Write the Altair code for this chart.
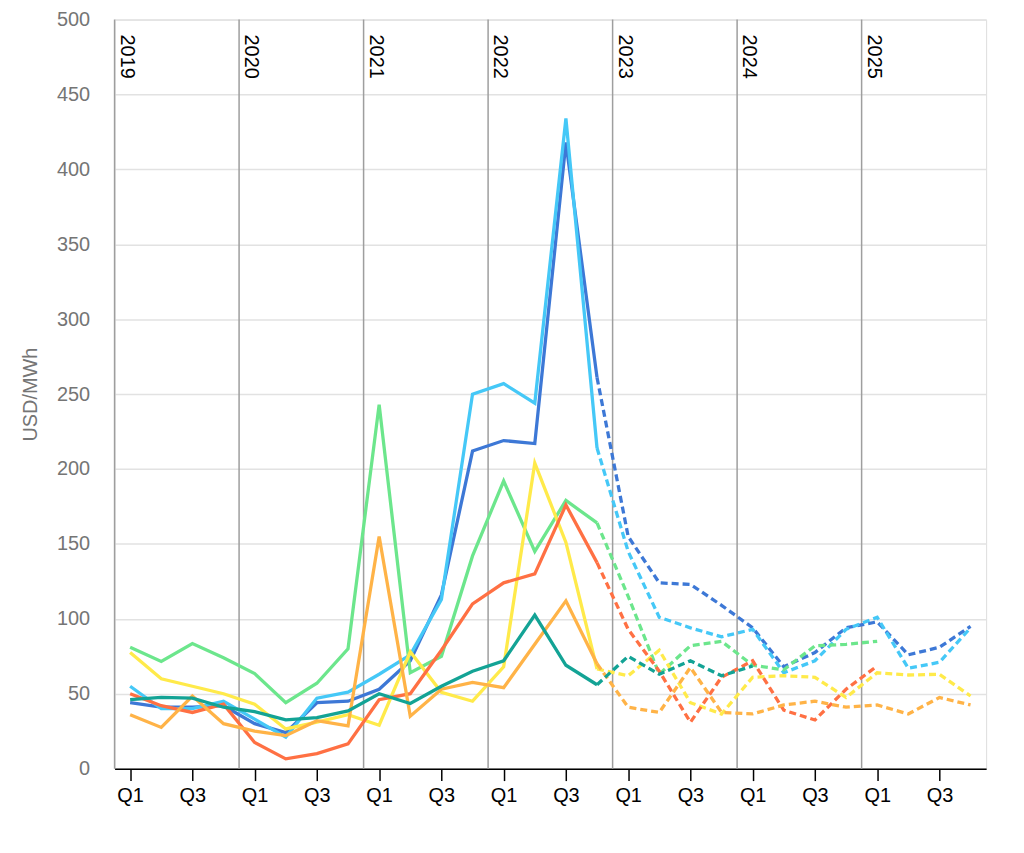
import altair as alt
import pandas as pd

# ---- data ----
quarter_labels = ["Q1", "Q3"]
years = ["2019", "2020", "2021", "2022", "2023", "2024", "2025"]
series_names = ["Series 1", "Series 2", "Series 3", "Series 4", "Series 5", "Series 6", "Series 7"]
series_colors = ["#3d78d6", "#45c8f7", "#6ce68c", "#ffea4a", "#ff7043", "#ffb347", "#13a395"]

s1 = [44, 41, 41, 42, 30, 24, 44, 45, 53, 72, 116, 212, 219, 217, 418, 261,
      155, 124, 123, 109, 94, 68, 77.5, 94, 98, 76, 81, 95]
s2 = [55, 40, 40, 45, 33, 21, 47, 51, 63, 76, 113, 250, 257, 244, 434, 214,
      145, 101, 94, 88, 93, 64, 72, 93, 101, 67, 71, 94]
s3 = [81, 71.5, 83.5, 74, 63.5, 44, 57, 80, 243, 64, 75, 142, 192, 145, 179, 164,
      115, 63, 82, 85, 69, 66, 82, 83, 85]
s4 = [77.5, 60, 55, 50, 43, 26.5, 31, 36, 29, 78, 51, 45, 68, 204, 151, 66.5,
      62, 79, 44, 36.5, 61, 62, 61, 47.5, 64, 62.5, 63, 48.5]
s5 = [50, 42, 37.5, 43, 17.5, 6.5, 10, 16.5, 46, 50, 79, 110, 124, 130, 176, 137.5,
      93, 65, 31, 61, 72, 39, 32.5, 53, 68.5]
s6 = [36, 27.5, 48.5, 30, 25, 22, 32, 28.5, 155, 35, 53, 57.5, 54, 83, 112, 70,
      41, 37.5, 67.5, 37.5, 36.5, 42.5, 45, 41, 42.5, 36.5, 47.5, 42.5]
s7 = [46, 47.5, 47, 41, 38, 32.5, 34, 38.5, 50, 43.5, 55, 65, 72, 102.5, 69, 56,
      75, 63, 72, 62, 68.5]
all_series = [s1, s2, s3, s4, s5, s6, s7]
last_actual = 15  # 2022 Q4: solid up to here, dashed from here on

rows = []
for name, vals in zip(series_names, all_series):
    for i, v in enumerate(vals):
        if i <= last_actual:
            rows.append({"q": i, "value": v, "series": name, "seg": "actual"})
        if i >= last_actual:
            rows.append({"q": i, "value": v, "series": name, "seg": "forecast"})
df = pd.DataFrame(rows)

year_df = pd.DataFrame({"q": [4 * k - 0.5 for k in range(len(years))], "year": years})

FONT = "Arial, Liberation Sans, sans-serif"

x_enc = alt.X(
    "q:Q",
    scale=alt.Scale(domain=[-0.5, 27.5], nice=False, zero=False),
    axis=alt.Axis(
        values=list(range(0, 28, 2)),
        labelExpr=f"datum.value % 4 == 0 ? '{quarter_labels[0]}' : '{quarter_labels[1]}'",
        grid=False, title=None,
        domainColor="#000000", domainWidth=1.5,
        tickColor="#000000", tickWidth=1.5, tickSize=12,
        labelColor="#000000", labelFontSize=20, labelPadding=5,
        labelFlush=False, labelOverlap=False,
    ),
)
y_enc = alt.Y(
    "value:Q",
    scale=alt.Scale(domain=[0, 500], nice=False),
    axis=alt.Axis(
        values=list(range(0, 501, 50)),
        grid=True, gridColor="#e2e2e2", gridWidth=1.5,
        domain=False, ticks=False,
        labelPadding=25, labelFontSize=20, labelColor="#757575",
        title="USD/MWh", titleFontSize=20, titleFontWeight="normal",
        titleColor="#757575", titlePadding=16,
    ),
)
color_enc = alt.Color(
    "series:N",
    scale=alt.Scale(domain=series_names, range=series_colors),
    legend=None,
)

rules = alt.Chart(year_df).mark_rule(color="#9e9e9e", strokeWidth=1.5).encode(x=x_enc)

solid = alt.Chart(df).transform_filter(alt.datum.seg == "actual").mark_line(
    strokeWidth=3.3
).encode(x=x_enc, y=y_enc, color=color_enc, detail="series:N")

dashed = alt.Chart(df).transform_filter(alt.datum.seg == "forecast").mark_line(
    strokeWidth=3.3, strokeDash=[7, 4]
).encode(x=x_enc, y=y_enc, color=color_enc, detail="series:N")

year_text = alt.Chart(year_df).mark_text(
    angle=90, align="left", baseline="alphabetic", dx=15, dy=-6,
    fontSize=20, color="#000000", font=FONT,
).encode(x=x_enc, y=alt.value(0), text="year:N")

chart = alt.layer(rules, solid, dashed, year_text).properties(
    width=875, height=752,
    padding={"left": 107, "top": 10, "right": 30, "bottom": 70},
    autosize=alt.AutoSizeParams(type="none"),
).configure_view(stroke=None).configure(font=FONT)

chart.save("out.html", embed_options={"renderer": "svg", "actions": False})
